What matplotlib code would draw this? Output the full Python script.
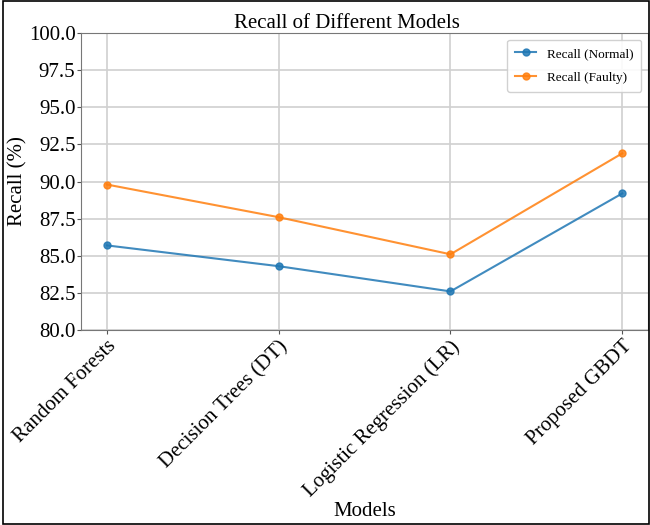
import matplotlib.pyplot as plt
from matplotlib.patches import Rectangle

plt.rcParams['font.family'] = ['Liberation Serif', 'DejaVu Serif']

models = ['Random Forests', 'Decision Trees (DT)', 'Logistic Regression (LR)', 'Proposed GBDT']
recall_normal = [85.7, 84.3, 82.6, 89.2]
recall_faulty = [89.8, 87.6, 85.1, 91.9]

fig = plt.figure(figsize=(6.5, 5.25), dpi=100)
ax = fig.add_axes([0.1246, 0.3714, 0.8724, 0.5656])

x = list(range(len(models)))
ax.plot(x, recall_normal, marker='o', markersize=5, color='#1f77b4', alpha=0.85, lw=1.5, label='Recall (Normal)')
ax.plot(x, recall_faulty, marker='o', markersize=5, color='#ff7f0e', alpha=0.85, lw=1.5, label='Recall (Faulty)')

ax.set_xlim(-0.15, 3.15)
ax.set_ylim(80, 100)
ax.set_yticks([80 + 2.5 * i for i in range(9)])
ax.set_xticks(x)
ax.set_xticklabels(models, rotation=45, ha='right', rotation_mode='anchor', fontsize=15)
ax.tick_params(axis='y', labelsize=15, colors='#555555', labelcolor='black', length=3, pad=1)
ax.tick_params(axis='x', colors='#555555', labelcolor='black', length=3, pad=2)
ax.grid(True, color='#d0d0d0', lw=1.2)
for s in ax.spines.values():
    s.set_color('#777777')

ax.set_title('Recall of Different Models', fontsize=15, pad=3, x=(347 - 81) / 567)
ax.set_ylabel('Recall (%)', fontsize=15, labelpad=1)
ax.set_xlabel('Models', fontsize=15, labelpad=1)
ax.legend(fontsize=9.5, loc='upper right', framealpha=0.9, edgecolor='#cccccc',
          handlelength=1.6, labelspacing=0.9, borderpad=0.6)

# frame around the whole figure
fig.patches.append(Rectangle((0.004, 0.002), 0.994, 0.996, transform=fig.transFigure,
                             fill=False, edgecolor='black', lw=1.2))

fig.savefig('out.png', dpi=100)
